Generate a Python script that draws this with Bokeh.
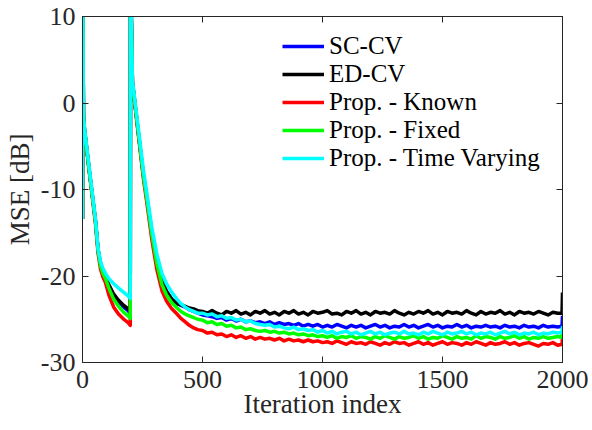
from bokeh.plotting import figure
from bokeh.models import Range1d, LinearAxis, FixedTicker, Legend, LegendItem
from bokeh.embed import file_html
from bokeh.resources import INLINE

# ---------------- data ----------------
TRANSIENT_ITER = [0, 1, 4, 8, 30, 54, 65, 75, 85, 96, 110, 130, 150, 172, 190,
                  199, 200, 201, 208, 230, 254, 268, 289, 310, 331, 350, 372, 394, 410, 428,
                  445, 463, 480, 500, 520, 540, 560, 580, 600, 620, 640, 660, 680, 700, 720]
STEADY_ITER = list(range(740, 2000, 20))
END_ITER = [1998, 2000]
ITER = TRANSIENT_ITER + STEADY_ITER + END_ITER

SC_CV_T = [-13.4, 14, -1.5, -3.0, -8.2, -13.6, -17.0, -18.6, -19.6, -20.3,
           -21.2, -22.3, -23.0, -23.6, -24.0, -24.3, 14, 14, 2.4, -2.8,
           -8.4, -11.0, -15.0, -18.3, -20.6, -21.8, -22.7, -23.2, -23.4, -23.6,
           -23.9, -24.1, -24.3, -24.5, -24.6, -24.7, -24.9, -24.8, -25.1, -24.9,
           -25.2, -25.0, -25.3, -25.2, -25.4]
SC_CV_S = [-25.3, -25.5, -25.3, -25.6, -25.4, -25.6, -25.5, -25.7, -25.5, -25.8,
           -25.6, -25.8, -25.6, -25.9, -25.7, -25.9, -25.6, -25.8, -26.0, -25.7,
           -25.9, -25.7, -26.0, -25.8, -25.6, -25.9, -25.7, -26.0, -25.8, -25.9,
           -25.6, -25.9, -25.7, -26.0, -25.8, -25.6, -25.9, -25.7, -26.0, -25.8,
           -25.9, -25.6, -25.9, -25.7, -26.0, -25.8, -25.9, -25.7, -25.9, -25.8,
           -26.0, -25.7, -25.9, -25.8, -26.0, -25.7, -25.9, -25.8, -26.0, -25.7,
           -25.9, -25.8, -25.9]
SC_CV_E = [-25.8, -24.6]

ED_CV_T = [-13.4, 14, -1.5, -3.0, -8.2, -13.6, -17.0, -18.6, -19.5, -20.2,
           -21.0, -22.1, -22.8, -23.4, -23.8, -24.1, 14, 14, 2.4, -2.8,
           -8.4, -11.0, -15.0, -18.3, -20.6, -21.8, -22.7, -23.2, -23.3, -23.5,
           -23.7, -23.8, -24.0, -24.1, -24.3, -24.0, -24.3, -24.5, -24.1, -24.3,
           -24.0, -24.4, -24.2, -24.5, -24.1]
ED_CV_S = [-24.3, -24.0, -24.4, -24.2, -24.5, -24.1, -24.3, -24.0, -24.4, -24.2,
           -24.5, -24.1, -24.3, -24.2, -24.0, -24.4, -24.3, -24.5, -24.1, -24.3,
           -24.0, -24.4, -24.2, -24.5, -24.1, -24.3, -24.2, -24.4, -24.0, -24.3,
           -24.5, -24.2, -24.4, -24.1, -24.3, -24.0, -24.4, -24.2, -24.5, -24.1,
           -24.3, -24.2, -24.4, -24.0, -24.3, -24.5, -24.1, -24.4, -24.2, -24.3,
           -24.0, -24.4, -24.2, -24.5, -24.1, -24.3, -24.2, -24.4, -24.1, -24.3,
           -24.5, -24.2, -24.3]
ED_CV_E = [-24.3, -21.9]

KNOWN_T = [-13.4, 14, -1.5, -3.0, -8.4, -13.9, -17.4, -19.2, -20.1, -20.8,
           -22.2, -23.6, -24.4, -25.0, -25.4, -25.7, 14, 14, 2.3, -3.0,
           -8.8, -11.5, -15.8, -19.3, -21.7, -22.9, -23.8, -24.4, -24.9, -25.3,
           -25.7, -26.0, -26.2, -26.3, -26.6, -26.5, -26.8, -26.7, -27.0, -26.8,
           -27.1, -26.9, -27.2, -27.0, -27.3]
KNOWN_S = [-27.1, -27.3, -27.2, -27.4, -27.2, -27.5, -27.3, -27.5, -27.4, -27.6,
           -27.4, -27.6, -27.5, -27.7, -27.6, -27.8, -27.5, -27.7, -27.9, -27.6,
           -27.8, -27.7, -27.9, -27.6, -27.8, -28.0, -27.7, -27.9, -27.6, -27.8,
           -27.7, -28.0, -27.8, -27.6, -27.9, -27.7, -28.0, -27.8, -27.6, -27.9,
           -27.7, -27.8, -28.0, -27.7, -27.9, -27.6, -27.8, -28.0, -27.7, -27.9,
           -27.8, -27.6, -27.9, -27.7, -28.0, -27.8, -27.7, -27.9, -28.1, -27.8,
           -27.9, -27.7, -28.0]
KNOWN_E = [-27.9, -27.0]

FIXED_T = [-13.4, 14, -1.5, -3.0, -8.3, -13.7, -17.1, -18.8, -19.7, -20.3,
           -21.4, -22.7, -23.5, -24.2, -24.6, -24.9, 14, 14, 2.4, -2.8,
           -8.5, -11.1, -15.2, -18.6, -21.0, -22.2, -23.1, -23.7, -24.1, -24.4,
           -24.6, -24.8, -25.0, -25.1, -25.4, -25.3, -25.6, -25.5, -25.8, -25.7,
           -26.0, -25.9, -26.2, -26.1, -26.3]
FIXED_S = [-26.4, -26.3, -26.5, -26.4, -26.6, -26.5, -26.7, -26.6, -26.8, -26.7,
           -26.9, -26.8, -27.0, -26.9, -27.1, -26.9, -27.2, -27.0, -27.1, -26.9,
           -27.2, -27.0, -27.1, -27.3, -27.0, -27.2, -26.9, -27.1, -27.3, -27.0,
           -27.2, -27.1, -26.9, -27.2, -27.0, -27.3, -27.1, -27.2, -26.9, -27.1,
           -27.3, -27.0, -27.2, -27.1, -27.3, -26.9, -27.2, -27.0, -27.1, -27.3,
           -27.0, -27.2, -27.1, -26.9, -27.2, -27.0, -27.3, -27.1, -27.2, -27.0,
           -27.2, -27.1, -27.0]
FIXED_E = [-27.1, -26.3]

TV_T = [-13.4, 14, -1.5, -2.8, -7.9, -13.4, -16.8, -18.3, -19.1, -19.7,
        -20.3, -20.9, -21.4, -21.9, -22.3, -22.6, 14, 14, 2.6, -2.3,
        -7.8, -10.4, -14.4, -17.5, -19.7, -20.9, -21.9, -22.7, -23.2, -23.6,
        -23.9, -24.1, -24.3, -24.3, -24.5, -24.4, -24.7, -24.6, -24.9, -24.8,
        -25.1, -25.0, -25.3, -25.2, -25.5]
TV_S = [-25.6, -25.7, -25.6, -25.9, -25.8, -26.0, -26.1, -25.9, -26.2, -26.1,
        -26.3, -26.2, -26.5, -26.3, -26.6, -26.4, -26.7, -26.5, -26.4, -26.7,
        -26.5, -26.8, -26.6, -26.4, -26.7, -26.5, -26.8, -26.6, -26.5, -26.7,
        -26.4, -26.7, -26.6, -26.8, -26.5, -26.7, -26.4, -26.6, -26.8, -26.5,
        -26.7, -26.6, -26.4, -26.7, -26.5, -26.8, -26.6, -26.7, -26.5, -26.8,
        -26.6, -26.4, -26.7, -26.5, -26.8, -26.6, -26.7, -26.5, -26.8, -26.6,
        -26.7, -26.5, -26.6]
TV_E = [-26.5, -25.8]

SERIES_NAMES = ["SC-CV", "ED-CV", "Prop. - Known", "Prop. - Fixed", "Prop. - Time Varying"]
SERIES_COLORS = ["#0000FF", "#000000", "#FF0000", "#00FF00", "#00FFFF"]
SERIES_VALUES = [SC_CV_T + SC_CV_S + SC_CV_E,
                 ED_CV_T + ED_CV_S + ED_CV_E,
                 KNOWN_T + KNOWN_S + KNOWN_E,
                 FIXED_T + FIXED_S + FIXED_E,
                 TV_T + TV_S + TV_E]

X_TICKS = [0, 500, 1000, 1500, 2000]
X_TICK_LABELS = ["0", "500", "1000", "1500", "2000"]
Y_TICKS = [-30, -20, -10, 0, 10]
Y_TICK_LABELS = ["-30", "-20", "-10", "0", "10"]

# ---------------- figure ----------------
FONT = "Liberation Serif"
AX = "#262626"

p = figure(width=590, height=428, output_backend="svg", toolbar_location=None,
           x_range=Range1d(0, 2000), y_range=Range1d(-30, 10),
           min_border_left=82, min_border_right=28, min_border_top=16, min_border_bottom=66)
p.xgrid.visible = False
p.ygrid.visible = False
p.outline_line_color = AX
p.outline_line_width = 1
p.background_fill_color = "white"
p.border_fill_color = "white"

renderers = []
for name, color, vals in zip(SERIES_NAMES, SERIES_COLORS, SERIES_VALUES):
    r = p.line(ITER, vals, line_color=color, line_width=3.5, line_join="round")
    renderers.append(r)

def style_axis(ax, ticks, labels, show_labels=True):
    ax.ticker = FixedTicker(ticks=ticks)
    ax.axis_line_color = AX
    ax.major_tick_line_color = AX
    ax.major_tick_in = 6
    ax.major_tick_out = 0
    ax.minor_tick_line_color = None
    ax.major_label_text_font = FONT
    ax.major_label_text_color = AX
    if show_labels:
        ax.major_label_overrides = {t: s for t, s in zip(ticks, labels)}
        ax.major_label_text_font_size = "26px"
    else:
        ax.major_label_overrides = {t: "" for t in ticks}
        ax.major_label_text_font_size = "1px"
        ax.major_label_standoff = 0

style_axis(p.xaxis[0], X_TICKS, X_TICK_LABELS)
style_axis(p.yaxis[0], Y_TICKS, Y_TICK_LABELS)
p.xaxis[0].major_label_standoff = 8
p.yaxis[0].major_label_standoff = 7

p.xaxis[0].axis_label = "Iteration index"
p.yaxis[0].axis_label = "MSE [dB]"
for ax in (p.xaxis[0], p.yaxis[0]):
    ax.axis_label_text_font = FONT
    ax.axis_label_text_font_size = "27px"
    ax.axis_label_text_font_style = "normal"
    ax.axis_label_text_color = AX
p.xaxis[0].axis_label_standoff = -2
p.yaxis[0].axis_label_standoff = 3

top_ax = LinearAxis()
style_axis(top_ax, X_TICKS, X_TICK_LABELS, show_labels=False)
p.add_layout(top_ax, "above")
right_ax = LinearAxis()
style_axis(right_ax, Y_TICKS, Y_TICK_LABELS, show_labels=False)
p.add_layout(right_ax, "right")

legend = Legend(items=[LegendItem(label=n, renderers=[r]) for n, r in zip(SERIES_NAMES, renderers)],
                location=(200, 190))
legend.label_text_font = FONT
legend.label_text_font_size = "25px"
legend.label_text_color = "black"
legend.label_text_baseline = "middle"
legend.glyph_width = 42
legend.glyph_height = 28
legend.label_height = 28
legend.label_standoff = 5
legend.spacing = 0
legend.padding = 0
legend.margin = 0
legend.border_line_color = None
legend.background_fill_alpha = 0
p.add_layout(legend, "center")

open("out.html", "w").write(file_html(p, INLINE))
